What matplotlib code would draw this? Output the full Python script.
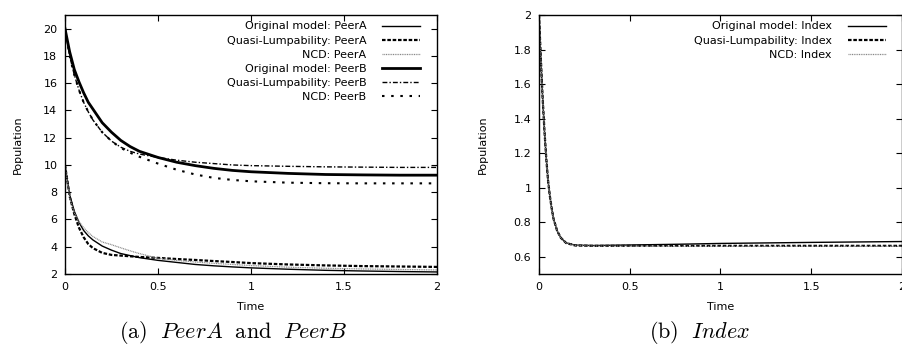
import matplotlib
matplotlib.use("Agg")
import matplotlib.pyplot as plt
from matplotlib.ticker import FormatStrFormatter
import numpy as np

plt.rcParams['font.family'] = ['DejaVu Sans']
plt.rcParams['mathtext.fontset'] = 'cm'

## time points
t_ab = [0, 0.025, 0.05, 0.075, 0.1, 0.125, 0.15, 0.2, 0.25, 0.3, 0.35, 0.4, 0.5,
        0.6, 0.7, 0.8, 0.9, 1.0, 1.2, 1.4, 1.6, 1.8, 2.0]

orig_a = [10, 7.8, 6.6, 5.8, 5.2, 4.8, 4.5, 4.05, 3.75, 3.5, 3.35, 3.2, 3.0,
          2.85, 2.7, 2.6, 2.52, 2.45, 2.35, 2.27, 2.22, 2.18, 2.15]
quasi_a = [10, 7.7, 6.4, 5.4, 4.7, 4.2, 3.9, 3.55, 3.4, 3.35, 3.3, 3.25, 3.18,
           3.1, 3.03, 2.95, 2.88, 2.8, 2.7, 2.63, 2.58, 2.55, 2.52]
ncd_a = [10, 7.6, 6.5, 5.85, 5.4, 5.05, 4.75, 4.35, 4.15, 3.92, 3.7, 3.5, 3.15,
         3.0, 2.88, 2.78, 2.7, 2.62, 2.5, 2.42, 2.37, 2.33, 2.3]
orig_b = [20, 18.3, 17.0, 16.1, 15.3, 14.6, 14.1, 13.1, 12.4, 11.8, 11.35, 11.0, 10.55,
          10.2, 9.95, 9.75, 9.6, 9.5, 9.38, 9.3, 9.27, 9.25, 9.25]
quasi_b = [20, 18.0, 16.6, 15.5, 14.6, 13.9, 13.3, 12.4, 11.75, 11.3, 11.0, 10.8, 10.55,
           10.35, 10.2, 10.1, 10.0, 9.95, 9.9, 9.86, 9.84, 9.82, 9.82]
ncd_b = [20, 18.0, 16.6, 15.5, 14.6, 13.9, 13.3, 12.4, 11.75, 11.25, 10.9, 10.6, 10.1,
         9.65, 9.3, 9.05, 8.9, 8.8, 8.7, 8.66, 8.65, 8.65, 8.65]

t_idx = [0, 0.01, 0.02, 0.03, 0.04, 0.05, 0.06, 0.07, 0.08, 0.1, 0.12, 0.15, 0.2,
         0.3, 0.5, 0.75, 1.0, 1.5, 2.0]
orig_idx = [2.0, 1.75, 1.52, 1.33, 1.17, 1.04, 0.95, 0.88, 0.82, 0.75, 0.71, 0.68, 0.667,
            0.665, 0.668, 0.672, 0.677, 0.683, 0.688]
quasi_idx = [2.0, 1.75, 1.52, 1.33, 1.17, 1.04, 0.95, 0.88, 0.82, 0.75, 0.71, 0.679, 0.665,
             0.663, 0.663, 0.663, 0.663, 0.663, 0.663]
ncd_idx = [2.0, 1.75, 1.52, 1.33, 1.17, 1.04, 0.95, 0.88, 0.82, 0.75, 0.71, 0.679, 0.665,
           0.662, 0.661, 0.66, 0.66, 0.66, 0.66]

fs = 8

fig = plt.figure(figsize=(9.03, 3.44), dpi=100)
ax1 = fig.add_axes([65/903, 70/344, 372/903, 259/344])
ax2 = fig.add_axes([539/903, 70/344, 363/903, 259/344])

## left panel
ax1.plot(t_ab, orig_a, color='black', lw=1.0, label='Original model: PeerA')
ax1.plot(t_ab, quasi_a, color='black', lw=1.6, dashes=(1.6, 0.8), label='Quasi-Lumpability: PeerA')
ax1.plot(t_ab, ncd_a, color='#888888', lw=0.9, dashes=(0.8, 0.6), label='NCD: PeerA')
ax1.plot(t_ab, orig_b, color='black', lw=2.0, label='Original model: PeerB')
ax1.plot(t_ab, quasi_b, color='black', lw=1.0, dashes=(3.5, 1.5, 1, 1.5), label='Quasi-Lumpability: PeerB')
ax1.plot(t_ab, ncd_b, color='black', lw=1.5, dashes=(1.2, 3.2), label='NCD: PeerB')
ax1.set_xlim(0, 2)
ax1.set_ylim(2, 21)
ax1.set_yticks(np.arange(2, 21, 2))
ax1.yaxis.set_label_coords(-0.114, 0.5)
ax1.xaxis.set_label_coords(0.5, -0.108)

## right panel
ax2.plot(t_idx, orig_idx, color='black', lw=1.0, label='Original model: Index')
ax2.plot(t_idx, quasi_idx, color='black', lw=1.6, dashes=(1.6, 0.8), label='Quasi-Lumpability: Index')
ax2.plot(t_idx, ncd_idx, color='#888888', lw=0.9, dashes=(0.8, 0.6), label='NCD: Index')
ax2.set_xlim(0, 2)
ax2.set_ylim(0.5, 2)
ax2.set_yticks(np.arange(0.6, 2.01, 0.2))
ax2.yaxis.set_label_coords(-0.142, 0.5)
ax2.xaxis.set_label_coords(0.5, -0.108)

for ax in (ax1, ax2):
    ax.set_xticks([0, 0.5, 1, 1.5, 2])
    ax.xaxis.set_major_formatter(FormatStrFormatter('%g'))
    ax.yaxis.set_major_formatter(FormatStrFormatter('%g'))
    ax.tick_params(direction='in', length=4, width=0.8, top=True, right=True,
                   labelsize=fs, pad=5.5)
    ax.tick_params(axis='x', pad=6)
    for s in ax.spines.values():
        s.set_linewidth(1.0)
    ax.set_xlabel('Time', fontsize=fs)
    ax.set_ylabel('Population', fontsize=fs)
    ax.legend(loc='upper right', bbox_to_anchor=(0.955, 0.975),
              frameon=False, markerfirst=False, fontsize=fs, handlelength=3.4,
              handletextpad=1.45, labelspacing=0.37, borderpad=0, borderaxespad=0)

fig.text(233/903, 1 - 332/344, r'$\mathrm{(a)}\ \ PeerA\ \ \mathrm{and}\ \ PeerB$',
         ha='center', va='center', fontsize=16)
fig.text(700/903, 1 - 332/344, r'$\mathrm{(b)}\ \ Index$',
         ha='center', va='center', fontsize=16)

fig.savefig('out.png', dpi=100)
